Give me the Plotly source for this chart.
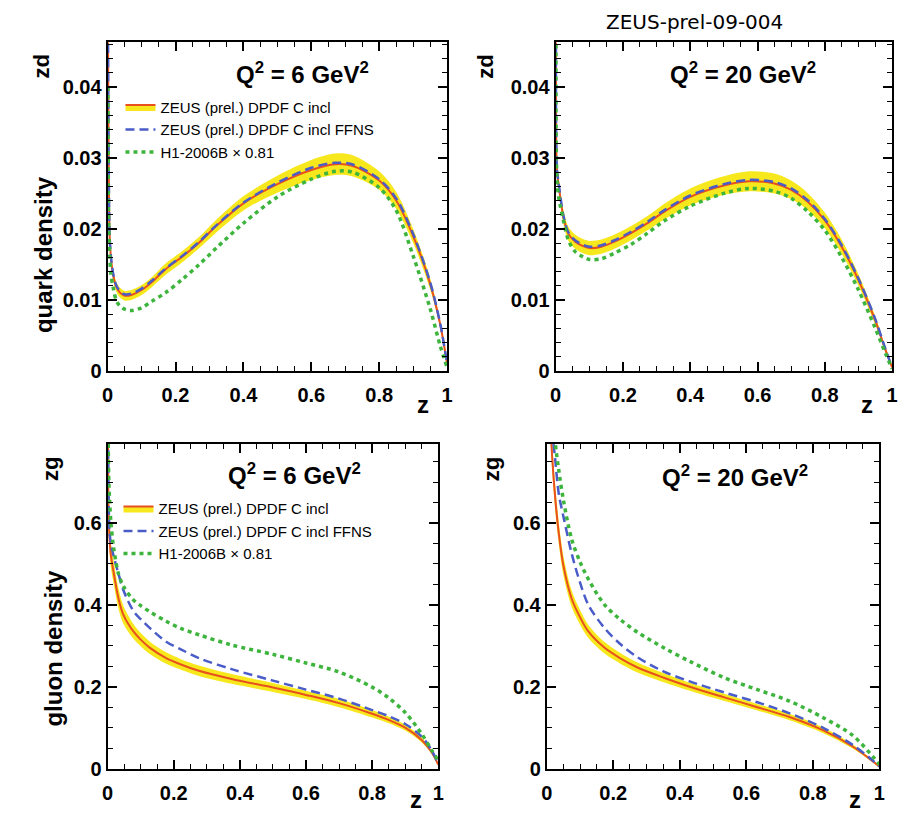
import plotly.graph_objects as go

W, H = 908, 823

# ---------------- data ----------------
# quark density, Q^2 = 6 GeV^2
z_q6 = [0.001, 0.003, 0.006, 0.01, 0.016, 0.025, 0.035, 0.05, 0.07, 0.1, 0.13, 0.17, 0.22,
        0.27, 0.32, 0.4, 0.5, 0.6, 0.67, 0.72, 0.8, 0.85, 0.9, 0.95, 0.98, 1.0]
zeus_q6 = [0.048, 0.030, 0.0189, 0.0158, 0.0136, 0.0119, 0.0111, 0.0106, 0.0107, 0.0114, 0.0125,
           0.0143, 0.0161, 0.0181, 0.0204, 0.0236, 0.0263, 0.0283, 0.0291, 0.0289, 0.0268, 0.0240,
           0.0190, 0.0123, 0.0065, 0.0010]
ffns_q6 = [0.048, 0.030, 0.0190, 0.0160, 0.0138, 0.0121, 0.0113, 0.0108, 0.0109, 0.0116, 0.0127,
           0.0144, 0.0162, 0.0182, 0.0205, 0.0237, 0.0265, 0.0286, 0.0293, 0.0291, 0.0270, 0.0243,
           0.0193, 0.0125, 0.0066, 0.0010]
h1_q6 = [0.040, 0.021, 0.0165, 0.0135, 0.0118, 0.0100, 0.0092, 0.0087, 0.0085, 0.0089, 0.0098,
         0.0110, 0.0129, 0.0150, 0.0173, 0.0208, 0.0245, 0.0270, 0.0281, 0.0280, 0.0258, 0.0226,
         0.0162, 0.0088, 0.0035, 0.0005]
band_q6 = [0.0012, 0.0010, 0.0009, 0.0008, 0.0008, 0.0007, 0.0007, 0.0007, 0.0007, 0.0007, 0.0007,
           0.0008, 0.0008, 0.0008, 0.0009, 0.0010, 0.0012, 0.0014, 0.0015, 0.0015, 0.0013, 0.0012,
           0.0010, 0.0008, 0.0005, 0.0003]

# quark density, Q^2 = 20 GeV^2
z_q20 = [0.001, 0.004, 0.009, 0.014, 0.023, 0.038, 0.058, 0.08, 0.1, 0.136, 0.175, 0.224, 0.273,
         0.322, 0.4, 0.5, 0.575, 0.65, 0.7, 0.75, 0.8, 0.85, 0.9, 0.95, 0.98, 1.0]
zeus_q20 = [0.048, 0.0282, 0.0262, 0.0244, 0.0217, 0.0193, 0.0182, 0.0176, 0.0173, 0.0175, 0.0182,
            0.0194, 0.0208, 0.0224, 0.0245, 0.0261, 0.0267, 0.0264, 0.0255, 0.0238, 0.0212, 0.0175,
            0.0128, 0.0071, 0.0030, 0.0005]
ffns_q20 = [0.048, 0.0284, 0.0264, 0.0246, 0.0219, 0.0195, 0.0184, 0.0178, 0.0175, 0.0177, 0.0184,
            0.0196, 0.0210, 0.0226, 0.0247, 0.0263, 0.0269, 0.0266, 0.0257, 0.0240, 0.0214, 0.0177,
            0.0130, 0.0073, 0.0031, 0.0005]
h1_q20 = [0.046, 0.0268, 0.0245, 0.0232, 0.0212, 0.0184, 0.0168, 0.0161, 0.0157, 0.0158, 0.0166,
          0.0178, 0.0194, 0.0211, 0.0232, 0.0250, 0.0257, 0.0253, 0.0243, 0.0224, 0.0198, 0.0160,
          0.0114, 0.0060, 0.0025, 0.0003]
band_q20 = [0.0012, 0.0011, 0.0010, 0.0010, 0.0010, 0.0010, 0.0010, 0.0010, 0.0010, 0.0010, 0.0010,
            0.0010, 0.0010, 0.0011, 0.0012, 0.0013, 0.0014, 0.0014, 0.0013, 0.0012, 0.0011, 0.0010,
            0.0008, 0.0006, 0.0004, 0.0002]

# gluon density, Q^2 = 6 GeV^2
z_g6 = [0.001, 0.003, 0.006, 0.01, 0.018, 0.033, 0.048, 0.078, 0.1, 0.128, 0.177, 0.22, 0.276,
        0.375, 0.5, 0.6, 0.7, 0.8, 0.85, 0.9, 0.95, 0.98, 1.0]
zeus_g6 = [0.95, 0.62, 0.56, 0.52, 0.48, 0.415, 0.375, 0.335, 0.315, 0.295, 0.27, 0.255, 0.239,
           0.219, 0.198, 0.18, 0.16, 0.134, 0.119, 0.1, 0.07, 0.04, 0.01]
ffns_g6 = [0.95, 0.66, 0.576, 0.55, 0.52, 0.475, 0.435, 0.385, 0.365, 0.343, 0.31, 0.292, 0.27,
           0.243, 0.215, 0.193, 0.171, 0.143, 0.128, 0.109, 0.078, 0.045, 0.012]
h1_g6 = [0.95, 0.72, 0.656, 0.60, 0.54, 0.475, 0.445, 0.412, 0.398, 0.383, 0.36, 0.343, 0.327,
         0.302, 0.279, 0.258, 0.236, 0.199, 0.173, 0.137, 0.085, 0.045, 0.02]
band_g6 = [0.05, 0.04, 0.035, 0.03, 0.028, 0.025, 0.022, 0.018, 0.016, 0.015, 0.014, 0.013, 0.013,
           0.012, 0.011, 0.010, 0.010, 0.009, 0.008, 0.007, 0.006, 0.004, 0.003]

# gluon density, Q^2 = 20 GeV^2
z_g20 = [0.005, 0.014, 0.026, 0.036, 0.05, 0.075, 0.1, 0.125, 0.174, 0.22, 0.273, 0.352, 0.43,
         0.534, 0.633, 0.73, 0.83, 0.92, 0.98, 1.0]
zeus_g20 = [1.0, 0.793, 0.656, 0.576, 0.496, 0.415, 0.37, 0.335, 0.295, 0.27, 0.247, 0.222, 0.2,
            0.174, 0.15, 0.126, 0.094, 0.054, 0.018, 0.005]
ffns_g20 = [1.1, 0.85, 0.75, 0.672, 0.616, 0.525, 0.455, 0.4, 0.343, 0.305, 0.272, 0.237, 0.213,
            0.186, 0.162, 0.135, 0.1, 0.058, 0.02, 0.005]
h1_g20 = [1.2, 0.95, 0.793, 0.73, 0.656, 0.56, 0.505, 0.463, 0.4, 0.365, 0.333, 0.295, 0.262,
          0.222, 0.193, 0.165, 0.125, 0.081, 0.03, 0.01]
band_g20 = [0.04, 0.035, 0.03, 0.027, 0.024, 0.02, 0.018, 0.016, 0.014, 0.013, 0.012, 0.011, 0.01,
            0.009, 0.008, 0.008, 0.007, 0.005, 0.003, 0.002]

names = ["ZEUS (prel.) DPDF C incl", "ZEUS (prel.) DPDF C incl FFNS", "H1-2006B \u00d7 0.81"]
titles = ["Q<sup>2</sup> = 6 GeV<sup>2</sup>", "Q<sup>2</sup> = 20 GeV<sup>2</sup>",
          "Q<sup>2</sup> = 6 GeV<sup>2</sup>", "Q<sup>2</sup> = 20 GeV<sup>2</sup>"]

# ---------------- styles ----------------
YELLOW = "#f7e81e"
ORANGE = "#e8501e"
BLUE = "#4a5cc8"
GREEN = "#3db53d"
FONT = "Liberation Sans"
SM = 0.9

panels = [
    dict(z=z_q6, zeus=zeus_q6, ffns=ffns_q6, h1=h1_q6, band=band_q6, legend="legend"),
    dict(z=z_q20, zeus=zeus_q20, ffns=ffns_q20, h1=h1_q20, band=band_q20, legend=None),
    dict(z=z_g6, zeus=zeus_g6, ffns=ffns_g6, h1=h1_g6, band=band_g6, legend="legend2"),
    dict(z=z_g20, zeus=zeus_g20, ffns=ffns_g20, h1=h1_g20, band=band_g20, legend=None),
]

fig = go.Figure()
for i, p in enumerate(panels):
    xa = "x" if i == 0 else "x%d" % (i + 1)
    ya = "y" if i == 0 else "y%d" % (i + 1)
    lo = [c - b for c, b in zip(p["zeus"], p["band"])]
    hi = [c + b for c, b in zip(p["zeus"], p["band"])]
    show = p["legend"] is not None
    leg = p["legend"] or "legend"
    fig.add_trace(go.Scatter(x=p["z"], y=lo, xaxis=xa, yaxis=ya, mode="lines",
                             line=dict(width=0, color=YELLOW, shape="spline", smoothing=SM),
                             showlegend=False, hoverinfo="skip"))
    fig.add_trace(go.Scatter(x=p["z"], y=p["zeus"], xaxis=xa, yaxis=ya, mode="lines",
                             fill="tonexty", fillcolor=YELLOW,
                             line=dict(width=2, color=ORANGE, shape="spline", smoothing=SM),
                             name=names[0], showlegend=show, legend=leg))
    fig.add_trace(go.Scatter(x=p["z"], y=hi, xaxis=xa, yaxis=ya, mode="lines",
                             fill="tonexty", fillcolor=YELLOW,
                             line=dict(width=0, color=YELLOW, shape="spline", smoothing=SM),
                             showlegend=False, hoverinfo="skip"))
    fig.add_trace(go.Scatter(x=p["z"], y=p["ffns"], xaxis=xa, yaxis=ya, mode="lines",
                             line=dict(width=2.5, color=BLUE, dash="9px,5px", shape="spline",
                                       smoothing=SM),
                             name=names[1], showlegend=show, legend=leg))
    fig.add_trace(go.Scatter(x=p["z"], y=p["h1"], xaxis=xa, yaxis=ya, mode="lines",
                             line=dict(width=3.5, color=GREEN, dash="4px,4px", shape="spline",
                                       smoothing=SM),
                             name=names[2], showlegend=show, legend=leg))

# ---------------- axes ----------------
def px_x(v):
    return v / W

def px_y(v):
    return 1 - v / H

xdom = [(103, 447), (557, 898), (103, 438), (548, 885)]
ydom = [(43, 376), (43, 376), (450, 779), (450, 779)]
yrng = [0.04625, 0.04625, 0.793, 0.793]
ydt = [0.01, 0.01, 0.2, 0.2]
ymin = [0.002, 0.002, 0.05, 0.05]

tickfont = dict(family=FONT, size=20, color="black", weight="bold")
layout = {}
for i in range(4):
    sx = "xaxis" if i == 0 else "xaxis%d" % (i + 1)
    sy = "yaxis" if i == 0 else "yaxis%d" % (i + 1)
    yid = "y" if i == 0 else "y%d" % (i + 1)
    xid = "x" if i == 0 else "x%d" % (i + 1)
    common = dict(showline=True, linecolor="black", linewidth=2, mirror="allticks",
                  ticks="inside", ticklen=9, tickwidth=1.5, tickcolor="black",
                  showgrid=False, zeroline=False, tickfont=tickfont)
    layout[sx] = dict(domain=[px_x(xdom[i][0]), px_x(xdom[i][1])], range=[0, 1], anchor=yid,
                      dtick=0.2, tick0=0, ticklabelstandoff=5,
                      minor=dict(dtick=0.05, ticklen=5, tickwidth=1.2, tickcolor="black",
                                 ticks="inside"),
                      **common)
    layout[sy] = dict(domain=[px_y(ydom[i][1]), px_y(ydom[i][0])], range=[0, yrng[i]],
                      anchor=xid, dtick=ydt[i], tick0=0,
                      minor=dict(dtick=ymin[i], ticklen=5, tickwidth=1.2, tickcolor="black",
                                 ticks="inside"),
                      **common)

fig.update_layout(**layout)

# ---------------- text ----------------
ann = []

def text(x, y, s, size, bold=True, angle=0, family=FONT):
    ann.append(dict(x=px_x(x), y=px_y(y), xref="paper", yref="paper", text=s, showarrow=False,
                    textangle=angle, xanchor="center", yanchor="middle",
                    font=dict(family=family, size=size, color="black",
                              weight="bold" if bold else "normal")))

text(698, 22, "ZEUS-prel-09-004", 20, bold=False, family="DejaVu Sans")
text(300, 74, titles[0], 24)
text(747, 74, titles[1], 24)
text(292, 480, titles[2], 24)
text(739, 482, titles[3], 24)
text(36, 68, "zd", 22, angle=-90)
text(486, 68, "zd", 22, angle=-90)
text(45, 475, "zg", 22, angle=-90)
text(492, 475, "zg", 22, angle=-90)
text(38, 258, "quark density", 24, angle=-90)
text(48, 657, "gluon density", 24, angle=-90)
text(423, 410, "z", 24)
text(873, 410, "z", 24)
text(415, 810, "z", 24)
text(860, 810, "z", 24)

legfont = dict(family=FONT, size=15, color="black")
fig.update_layout(
    annotations=ann,
    width=W, height=H,
    margin=dict(l=0, r=0, t=0, b=0),
    paper_bgcolor="white", plot_bgcolor="white",
    legend=dict(x=px_x(116), y=px_y(92), xanchor="left", yanchor="top", traceorder="normal",
                bgcolor="rgba(0,0,0,0)", font=legfont, tracegroupgap=0),
    legend2=dict(x=px_x(114), y=px_y(499), xanchor="left", yanchor="top", traceorder="normal",
                 bgcolor="rgba(0,0,0,0)", font=legfont, tracegroupgap=0),
)

fig.write_html("out.html")
